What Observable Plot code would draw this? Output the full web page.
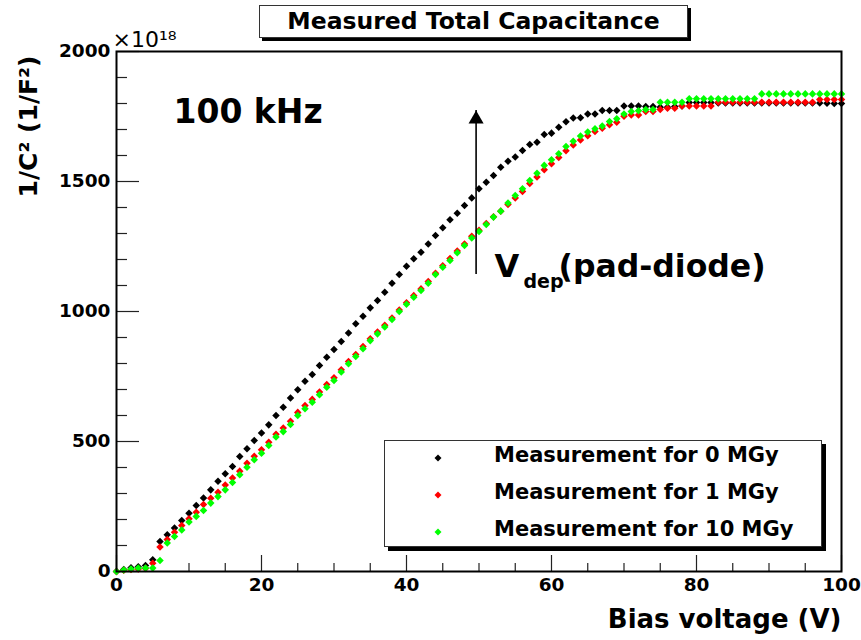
<!DOCTYPE html>
<html><head><meta charset="utf-8">
<script src="https://cdn.jsdelivr.net/npm/d3@7"></script>
<script src="https://cdn.jsdelivr.net/npm/@observablehq/plot@0.6"></script>
<style>
body{margin:0;background:#fff;}
#wrap{position:relative;width:861px;height:640px;background:#fff;}
#title{position:absolute;left:259px;top:5px;width:427px;height:31px;border:1px solid #333;box-shadow:3px 3px 0 #000;background:#fff;font:bold 23.5px "DejaVu Sans";text-align:center;line-height:31px;color:#000;}
#legend{position:absolute;left:384px;top:440px;width:436px;height:105px;border:1px solid #333;box-shadow:4px 4px 0 #000;background:#fff;}
.lrow{position:absolute;left:0;height:30px;line-height:30px;font:bold 21px "DejaVu Sans";color:#000;white-space:nowrap;}
.lrow svg{position:absolute;left:49px;top:11px;}
.lrow span{position:absolute;left:109px;}
</style></head>
<body>
<div id="wrap"></div>
<script>
// ---- data ----
const titleText = "Measured Total Capacitance";
const xLabel = "Bias voltage (V)";
const yLabel = "1/C² (1/F²)";
const yExponent = "×10¹⁸";
const freqText = "100 kHz";
const seriesNames = ["Measurement for 0 MGy", "Measurement for 1 MGy", "Measurement for 10 MGy"];
const seriesColors = ["#000000", "#ff0000", "#00ff00"];

const volts = [0,1,2,3,4,5,6,7,8,9,10,11,12,13,14,15,16,17,18,19,20,21,22,23,24,25,26,27,28,29,30,31,32,33,34,35,36,37,38,39,40,41,42,43,44,45,46,47,48,49,50,51,52,53,54,55,56,57,58,59,60,61,62,63,64,65,66,67,68,69,70,71,72,73,74,75,76,77,78,79,80,81,82,83,84,85,86,87,88,89,90,91,92,93,94,95,96,97,98,99,100];

const inv_c2_0MGy = [
0,8,14,18,23,45,115,141,167,196,
224,254,283,314,347,376,404,442,472,504,
533,564,600,632,667,699,732,758,792,824,
854,885,917,953,982,1014,1042,1074,1109,1142,
1174,1203,1228,1260,1292,1322,1353,1378,1408,1437,
1472,1497,1523,1555,1578,1594,1619,1642,1651,1681,
1686,1709,1730,1744,1745,1760,1760,1773,1773,1773,
1790,1790,1790,1788,1788,1786,1786,1788,1790,1804,
1804,1804,1804,1802,1802,1802,1802,1802,1802,1802,
1802,1802,1802,1802,1802,1802,1802,1802,1801,1800,
1800];

const inv_c2_1MGy = [
0,5,8,10,12,32,94,123,151,177,
203,228,258,282,305,333,360,386,416,443,
468,497,528,552,578,612,638,662,690,719,
745,776,808,835,865,895,921,947,975,1006,
1034,1061,1087,1115,1147,1176,1204,1233,1260,1289,
1312,1338,1364,1386,1412,1437,1462,1492,1517,1545,
1568,1592,1618,1640,1660,1676,1692,1705,1718,1728,
1751,1756,1756,1769,1769,1777,1782,1782,1790,1790,
1790,1790,1790,1805,1805,1805,1805,1805,1805,1805,
1805,1805,1805,1805,1805,1805,1805,1815,1815,1815,
1815];

const inv_c2_10MGy = [
0,6,10,13,13,13,42,110,135,160,
190,212,235,263,288,314,342,372,401,430,
455,485,517,538,565,600,626,651,680,709,
735,767,799,827,857,888,914,940,969,1000,
1028,1055,1081,1109,1142,1170,1196,1226,1254,1283,
1308,1335,1363,1386,1417,1446,1472,1504,1532,1562,
1584,1607,1635,1655,1675,1690,1703,1713,1731,1741,
1760,1769,1772,1777,1777,1805,1805,1805,1805,1818,
1818,1818,1818,1818,1818,1818,1818,1818,1818,1837,
1837,1837,1837,1837,1837,1837,1837,1837,1837,1837,
1837];

const xMajorTicks = [0,20,40,60,80,100];
const xMinorTicks = [5,10,15,25,30,35,45,50,55,65,70,75,85,90,95];
const yMajorTicks = [0,500,1000,1500,2000];
const yMinorTicks = [100,200,300,400,600,700,800,900,1100,1200,1300,1400,1600,1700,1800,1900];

// V_dep arrow annotation (data coords)
const arrowX = [49.6];
const arrowYStart = [1188];
const arrowYTip = [1773];

// ---- build ----
const allSeries = [inv_c2_0MGy, inv_c2_1MGy, inv_c2_10MGy];
const rows = [];
allSeries.forEach((vals, si) => vals.forEach((v, i) => rows.push({V: volts[i], y: v, s: seriesNames[si]})));

const W = 861, H = 640, mL = 116, mR = 20, mT = 51, mB = 69;
const pw = W - mL - mR, ph = H - mT - mB;

const chart = Plot.plot({
  width: W, height: H,
  marginLeft: mL, marginRight: mR, marginTop: mT, marginBottom: mB,
  x: {domain: [0, 100]},
  y: {domain: [0, 2000]},
  color: {domain: seriesNames, range: seriesColors},
  style: {fontFamily: "DejaVu Sans", fontWeight: "bold", fontSize: "18.5px", color: "#000", background: "#fff"},
  marks: [
    Plot.tickX(xMajorTicks, {x: d => d, insetTop: ph - 16, stroke: "#222", strokeWidth: 1.2}),
    Plot.tickX(xMinorTicks, {x: d => d, insetTop: ph - 8, stroke: "#222", strokeWidth: 1.2}),
    Plot.tickY(yMajorTicks, {y: d => d, insetRight: pw - 23, stroke: "#222", strokeWidth: 1.2}),
    Plot.tickY(yMinorTicks, {y: d => d, insetRight: pw - 11, stroke: "#222", strokeWidth: 1.2}),
    Plot.axisX({ticks: xMajorTicks, tickSize: 0, tickPadding: 6, tickFormat: d => `${d}`, label: null}),
    Plot.axisY({ticks: yMajorTicks, tickSize: 0, tickPadding: 6, tickFormat: d => `${d}`, label: null}),
    Plot.dot(rows, {x: "V", y: "y", fill: "s", symbol: "diamond2", r: 3.4}),
    Plot.frame({stroke: "#000", strokeWidth: 2}),
    Plot.ruleX(arrowX, {x: d => d, y1: arrowYStart, y2: arrowYTip, stroke: "#000", strokeWidth: 1.6, insetTop: 12}),
    Plot.dot(arrowX, {x: d => d, y: arrowYTip, symbol: "triangle", r: 5.6, fill: "#000", dy: 8.7}),
    Plot.text([xLabel], {frameAnchor: "bottom-right", textAnchor: "end", lineAnchor: "bottom", dy: 56, fontSize: 26}),
    Plot.text([yLabel], {frameAnchor: "top-left", rotate: -90, textAnchor: "end", lineAnchor: "middle", dx: -88, dy: 4, fontSize: 25}),
    Plot.text([yExponent], {frameAnchor: "top-left", textAnchor: "start", lineAnchor: "bottom", dx: -4, dy: -5, fontSize: 22, fontWeight: "normal"}),
    Plot.text([freqText], {frameAnchor: "top-left", textAnchor: "start", lineAnchor: "bottom", dx: 57, dy: 71, fontSize: 33}),
    Plot.text(["V"], {frameAnchor: "top-left", textAnchor: "start", lineAnchor: "bottom", dx: 378, dy: 225, fontSize: 32}),
    Plot.text(["dep"], {frameAnchor: "top-left", textAnchor: "start", lineAnchor: "bottom", dx: 407, dy: 236, fontSize: 19}),
    Plot.text(["(pad-diode)"], {frameAnchor: "top-left", textAnchor: "start", lineAnchor: "bottom", dx: 442, dy: 225, fontSize: 31.5})
  ]
});

const wrap = document.getElementById("wrap");
wrap.appendChild(chart);

const t = document.createElement("div");
t.id = "title"; t.textContent = titleText;
wrap.appendChild(t);

const lg = document.createElement("div");
lg.id = "legend";
const centers = [17, 54, 91];
seriesNames.forEach((name, i) => {
  const r = document.createElement("div");
  r.className = "lrow";
  r.style.top = (centers[i] - 15) + "px";
  r.style.width = "436px";
  r.innerHTML = `<svg width="8" height="8"><path d="M4,0.5L7.5,4L4,7.5L0.5,4Z" fill="${seriesColors[i]}"/></svg><span></span>`;
  r.querySelector("span").textContent = name;
  lg.appendChild(r);
});
wrap.appendChild(lg);
</script>
</body></html>
